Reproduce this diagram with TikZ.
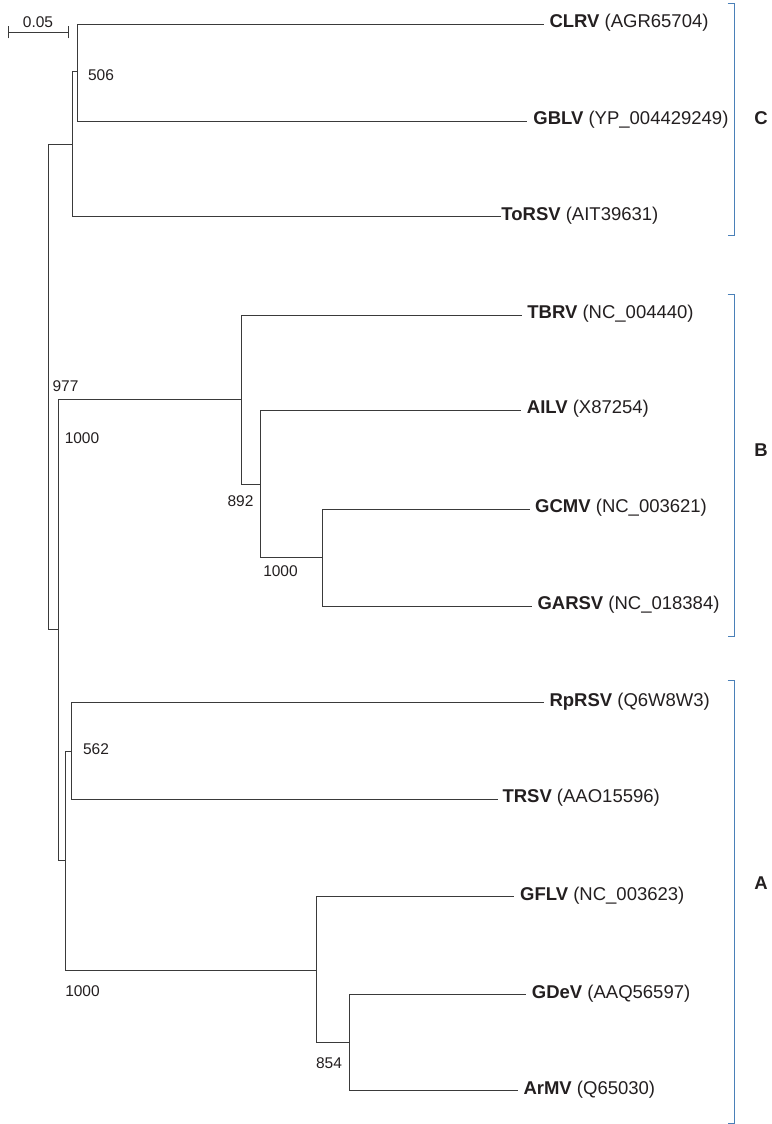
\documentclass[tikz,border=0pt]{standalone}
\usepackage{fontspec}
\setmainfont{Liberation Sans}
\definecolor{treeline}{HTML}{3A3A3A}
\definecolor{txt}{HTML}{231F20}
\definecolor{clade}{HTML}{4A80B8}
\begin{document}
\begin{tikzpicture}[x=1pt,y=-1pt,
  branch/.style={draw=treeline,line width=0.9pt},
  taxon/.style={anchor=west,inner sep=0pt,text height=0.716em,text depth=0pt,
    font=\fontsize{18.5}{20}\selectfont,text=txt},
  boot/.style={anchor=center,inner sep=0pt,text height=0.716em,text depth=0pt,
    font=\fontsize{15.5}{17}\selectfont,text=txt},
  cladebar/.style={draw=clade,line width=1pt},
  cladelabel/.style={anchor=center,inner sep=0pt,text height=0.716em,text depth=0pt,
    font=\fontsize{18.5}{20}\selectfont\bfseries,text=txt}]
\useasboundingbox (0,0) rectangle (771,1124);

% leaf ends
\coordinate (eCLRV) at (544.3,24.3);
\coordinate (eGBLV) at (526.7,121.3);
\coordinate (eToRSV) at (500.7,216.7);
\coordinate (eTBRV) at (521.7,315);
\coordinate (eAILV) at (520.7,410.3);
\coordinate (eGCMV) at (530,509.3);
\coordinate (eGARSV) at (532.3,606);
\coordinate (eRpRSV) at (544.3,702.7);
\coordinate (eTRSV) at (497.7,799.3);
\coordinate (eGFLV) at (514,896.7);
\coordinate (eGDeV) at (526,994.7);
\coordinate (eArMV) at (518.3,1090.7);

% leaf labels
\node[taxon] (CLRV) at ([xshift=5]eCLRV) {\textbf{CLRV} (AGR65704)};
\node[taxon] (GBLV) at ([xshift=6.5]eGBLV) {\textbf{GBLV} (YP\_004429249)};
\node[taxon] (ToRSV) at ([xshift=0.5]eToRSV) {\textbf{ToRSV} (AIT39631)};
\node[taxon] (TBRV) at ([xshift=5.5]eTBRV) {\textbf{TBRV} (NC\_004440)};
\node[taxon] (AILV) at ([xshift=6]eAILV) {\textbf{AILV} (X87254)};
\node[taxon] (GCMV) at ([xshift=5]eGCMV) {\textbf{GCMV} (NC\_003621)};
\node[taxon] (GARSV) at ([xshift=5]eGARSV) {\textbf{GARSV} (NC\_018384)};
\node[taxon] (RpRSV) at ([xshift=5]eRpRSV) {\textbf{RpRSV} (Q6W8W3)};
\node[taxon] (TRSV) at ([xshift=4.6]eTRSV) {\textbf{TRSV} (AAO15596)};
\node[taxon] (GFLV) at ([xshift=6]eGFLV) {\textbf{GFLV} (NC\_003623)};
\node[taxon] (GDeV) at ([xshift=5.7]eGDeV) {\textbf{GDeV} (AAQ56597)};
\node[taxon] (ArMV) at ([xshift=5]eArMV) {\textbf{ArMV} (Q65030)};

% internal nodes
\coordinate (root) at (48,387);
\coordinate (nC) at (72.7,144.7);
\coordinate (nCG) at (77.3,71.7);
\coordinate (nAB) at (58.3,629.3);
\coordinate (nB) at (241,399.7);
\coordinate (nB2) at (260,484.3);
\coordinate (nB3) at (322,557.3);
\coordinate (nA) at (65,860.7);
\coordinate (nA1) at (71.7,751);
\coordinate (nA2) at (316,970);
\coordinate (nA3) at (349.3,1042.7);

% branches
\draw[branch] (root) |- (nC);
\draw[branch] (root) |- (nAB);
\draw[branch] (nC) |- (nCG);
\draw[branch] (nC) |- (eToRSV);
\draw[branch] (nCG) |- (eCLRV);
\draw[branch] (nCG) |- (eGBLV);
\draw[branch] (nAB) |- (nB);
\draw[branch] (nAB) |- (nA);
\draw[branch] (nB) |- (eTBRV);
\draw[branch] (nB) |- (nB2);
\draw[branch] (nB2) |- (eAILV);
\draw[branch] (nB2) |- (nB3);
\draw[branch] (nB3) |- (eGCMV);
\draw[branch] (nB3) |- (eGARSV);
\draw[branch] (nA) |- (nA1);
\draw[branch] (nA) |- (nA2);
\draw[branch] (nA1) |- (eRpRSV);
\draw[branch] (nA1) |- (eTRSV);
\draw[branch] (nA2) |- (eGFLV);
\draw[branch] (nA2) |- (nA3);
\draw[branch] (nA3) |- (eGDeV);
\draw[branch] (nA3) |- (eArMV);

% bootstrap values
\node[boot] (b506) at (101,77) {506};
\node[boot] (b977) at (65.5,387.7) {977};
\node[boot] (b1000a) at (82,440) {1000};
\node[boot] (b892) at (240.5,503.3) {892};
\node[boot] (b1000b) at (280.5,572.7) {1000};
\node[boot] (b562) at (96,751) {562};
\node[boot] (b1000c) at (82.5,993.3) {1000};
\node[boot] (b854) at (329,1065) {854};

% scale bar
\coordinate (s1) at (8.3,32.3);
\coordinate (s2) at (68,32.3);
\draw[branch] (s1) -- (s2);
\draw[branch] ([yshift=-6]s1) -- ([yshift=6]s1);
\draw[branch] ([yshift=-6]s2) -- ([yshift=6]s2);
\node[boot] (scale) at (38,24.2) {0.05};

% clade brackets
\draw[cladebar] (727.7,4) -| (734.3,235.7) -- (727.7,235.7);
\draw[cladebar] (727.7,294) -| (734.3,636) -- (727.7,636);
\draw[cladebar] (727.7,680) -| (734.3,1123.3) -- (727.7,1123.3);
\node[cladelabel] (lC) at (761,120.7) {C};
\node[cladelabel] (lB) at (761,453.3) {B};
\node[cladelabel] (lA) at (761,886) {A};
\end{tikzpicture}
\end{document}
